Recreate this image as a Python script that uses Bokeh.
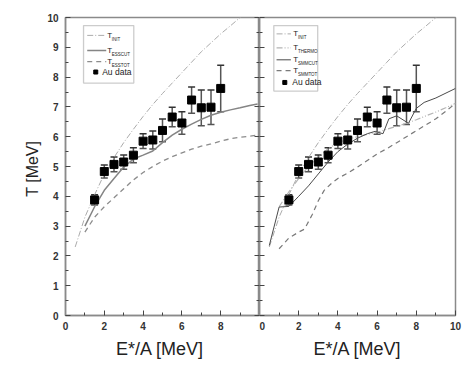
from bokeh.plotting import figure
from bokeh.models import (ColumnDataSource, Whisker, TeeHead, FixedTicker, LinearAxis,
                          BoxAnnotation, Label, Range1d)
from bokeh.layouts import row
from bokeh.embed import file_html
from bokeh.resources import INLINE

# ---------------- data ----------------
E_data = [1.5, 2.0, 2.5, 3.0, 3.5, 4.0, 4.5, 5.0, 5.5, 6.0, 6.5, 7.0, 7.5, 8.0]
T_data = [3.88, 4.83, 5.07, 5.15, 5.38, 5.85, 5.89, 6.21, 6.66, 6.46, 7.23, 6.97, 6.99, 7.62]
T_err = [0.17, 0.22, 0.25, 0.24, 0.25, 0.25, 0.30, 0.38, 0.33, 0.38, 0.44, 0.60, 0.58, 0.78]

E_init = [0.5, 1.0, 1.5, 2.0, 2.5, 3.0, 3.5, 4.0, 4.5, 5.0, 5.5, 6.0, 6.5, 7.0, 7.5, 8.0, 8.5, 9.0, 9.5]
T_init = [2.3, 3.3, 4.05, 4.75, 5.3, 5.8, 6.25, 6.68, 7.08, 7.45, 7.8, 8.15, 8.5, 8.85, 9.15, 9.45, 9.72, 10.0, 10.25]

E_esscut = [1.0, 1.5, 2.0, 2.5, 3.0, 3.5, 4.0, 4.5, 5.0, 5.5, 6.0, 6.5, 7.0, 7.5, 8.0, 8.5, 9.0, 9.5, 9.9]
T_esscut = [3.0, 3.65, 4.2, 4.6, 4.98, 5.25, 5.38, 5.52, 5.8, 6.05, 6.25, 6.42, 6.58, 6.72, 6.82, 6.9, 6.97, 7.05, 7.1]

E_esstot = [1.0, 1.5, 2.0, 2.5, 3.0, 3.5, 4.0, 4.5, 5.0, 5.5, 6.0, 6.5, 7.0, 7.5, 8.0, 8.5, 9.0, 9.5, 9.9]
T_esstot = [2.8, 3.3, 3.65, 3.95, 4.25, 4.55, 4.8, 5.0, 5.18, 5.33, 5.46, 5.58, 5.68, 5.76, 5.85, 5.93, 5.98, 6.02, 6.05]

E_thermo = [1.0, 1.5, 2.0, 2.5, 3.0, 3.5, 4.0, 4.5, 5.0, 5.5, 6.0, 6.5, 7.0, 7.5, 8.0, 8.5, 9.0, 9.5, 10.0]
T_thermo = [3.65, 4.15, 4.6, 5.0, 5.3, 5.6, 5.8, 5.92, 6.0, 6.08, 6.15, 6.25, 6.35, 6.45, 6.57, 6.7, 6.83, 6.97, 7.12]

E_smmcut = [0.5, 1.0, 1.5, 2.0, 2.5, 3.0, 3.5, 4.0, 4.5, 5.0, 5.5, 5.9, 6.3, 6.6, 7.0, 7.6, 8.0, 8.4, 9.0, 10.0]
T_smmcut = [2.35, 3.64, 3.66, 4.0, 4.35, 4.75, 5.15, 5.5, 5.75, 5.95, 6.1, 6.18, 6.1, 6.6, 6.7, 6.45, 6.95, 7.15, 7.3, 7.62]

E_smmtot = [1.0, 1.5, 2.0, 2.3, 2.7, 3.0, 3.3, 3.7, 4.0, 4.5, 5.0, 5.5, 6.0, 6.5, 7.0, 7.5, 8.0, 8.5, 9.0, 9.5, 10.0]
T_smmtot = [2.24, 2.6, 2.8, 2.9, 3.4, 3.85, 4.2, 4.45, 4.6, 4.78, 4.98, 5.2, 5.42, 5.6, 5.8, 6.0, 6.2, 6.4, 6.6, 6.85, 7.12]

x_ticks_left = [0, 2, 4, 6, 8]
x_ticks_right = [0, 2, 4, 6, 8, 10]
y_ticks = [0, 1, 2, 3, 4, 5, 6, 7, 8, 9, 10]

FONT = "Liberation Sans"
AXIS_COL = "#8a8a8a"
TICK_COL = "#444444"

INIT_STYLE = dict(line_color="#ababab", line_width=1, line_dash="6 2 1 2")
THERMO_STYLE = dict(line_color="#b4b4b4", line_width=1.2, line_dash="6 2 1 2 1 2")


def make_fig(left_border, right_border, frame_w, xticks):
    p = figure(frame_width=frame_w, frame_height=298,
               x_range=Range1d(0, 10), y_range=Range1d(0, 10),
               min_border_left=left_border, min_border_right=right_border,
               min_border_top=17, min_border_bottom=42,
               output_backend="svg", toolbar_location=None)
    p.xgrid.visible = False
    p.ygrid.visible = False
    p.outline_line_color = AXIS_COL
    p.outline_line_width = 1.5
    p.xaxis.ticker = FixedTicker(ticks=xticks, minor_ticks=[1, 3, 5, 7, 9])
    p.yaxis.ticker = FixedTicker(ticks=y_ticks, minor_ticks=[v + 0.5 for v in y_ticks[:-1]])
    for ax in (p.xaxis[0], p.yaxis[0]):
        ax.axis_line_color = AXIS_COL
        ax.axis_line_width = 1.5
        ax.major_tick_in = 5
        ax.major_tick_out = 0
        ax.minor_tick_in = 3
        ax.minor_tick_out = 0
        ax.major_tick_line_color = TICK_COL
        ax.minor_tick_line_color = TICK_COL
        ax.major_label_text_font = FONT
        ax.major_label_text_font_style = "bold"
        ax.major_label_text_font_size = "10px"
        ax.major_label_text_color = "#333333"
        ax.axis_label_text_font = FONT
        ax.axis_label_text_font_style = "normal"
        ax.axis_label_text_color = "#222222"
    p.xaxis.major_label_standoff = 6
    p.yaxis.major_label_standoff = 7
    return p


def add_data(p):
    src = ColumnDataSource(dict(x=E_data, y=T_data,
                                lo=[t - e for t, e in zip(T_data, T_err)],
                                hi=[t + e for t, e in zip(T_data, T_err)]))
    w = Whisker(base="x", lower="lo", upper="hi", source=src,
                line_color="#555555", line_width=1.5,
                upper_head=TeeHead(size=7, line_color="#333333", line_width=1.5),
                lower_head=TeeHead(size=7, line_color="#555555", line_width=1.5))
    p.add_layout(w)
    p.scatter("x", "y", source=src, marker="square", size=8, color="black")


def legend(p, x0, x1, y0, y1, xl0, xl1, xt, rows, au_y, au_mx, au_tx):
    p.add_layout(BoxAnnotation(left=x0, right=x1, bottom=y0, top=y1,
                               fill_color="white", fill_alpha=1.0, level="underlay",
                               line_color="#555555", line_width=1.3))
    for yy, style, sub in rows:
        p.line([xl0, xl1], [yy, yy], **style)
        p.add_layout(Label(x=xt, y=yy, text="T", text_font=FONT, text_font_size="8px",
                           text_baseline="middle", text_color="#222222"))
        p.add_layout(Label(x=xt + 0.24, y=yy - 0.13, text=sub, text_font=FONT,
                           text_font_size="4.5px", text_baseline="middle",
                           text_color="#222222"))
    p.scatter([au_mx], [au_y], marker="square", size=4, color="black")
    p.add_layout(Label(x=au_tx, y=au_y, text="Au data", text_font=FONT,
                       text_font_size="8.5px", text_baseline="middle", text_color="#222222"))


def hide_labels(ax):
    ax.major_label_text_font_size = "1px"
    ax.major_label_text_color = None
    ax.major_label_standoff = 0


# ---------------- left panel ----------------
p1 = make_fig(65, 0, 194, x_ticks_left)
p1.xaxis.axis_label = "E*/A  [MeV]"
p1.yaxis.axis_label = "T  [MeV]"
p1.xaxis.axis_label_text_font_size = "18px"
p1.yaxis.axis_label_text_font_size = "16px"
p1.xaxis.axis_label_standoff = 6
p1.yaxis.axis_label_standoff = 3

ESSCUT_STYLE = dict(line_color="#858585", line_width=1.5)
ESSTOT_STYLE = dict(line_color="#8c8c8c", line_width=1.3, line_dash="5 4")

p1.line(E_init, T_init, **INIT_STYLE)
p1.line(E_esscut, T_esscut, **ESSCUT_STYLE)
p1.line(E_esstot, T_esstot, **ESSTOT_STYLE)
add_data(p1)

legend(p1, 0.93, 3.52, 7.8, 9.73, 1.12, 2.1, 2.15,
       [(9.4, INIT_STYLE, "INIT"), (8.89, ESSCUT_STYLE, "ESSCUT"), (8.52, ESSTOT_STYLE, "ESSTOT")],
       8.17, 1.56, 1.89)

# ---------------- right panel ----------------
p2 = make_fig(0, 8, 196, x_ticks_right)
p2.xaxis.axis_label = "E*/A [MeV]"
p2.xaxis.axis_label_text_font_size = "18px"
p2.xaxis.axis_label_standoff = 6
hide_labels(p2.yaxis[0])

SMMCUT_STYLE = dict(line_color="#4a4a4a", line_width=1)
SMMTOT_STYLE = dict(line_color="#7a7a7a", line_width=1.2, line_dash="5 4")

p2.line(E_init, T_init, **INIT_STYLE)
p2.line(E_thermo, T_thermo, **THERMO_STYLE)
p2.line(E_smmcut, T_smmcut, **SMMCUT_STYLE)
p2.line(E_smmtot, T_smmtot, **SMMTOT_STYLE)
add_data(p2)

legend(p2, 0.73, 2.97, 7.53, 9.73, 0.87, 1.6, 1.72,
       [(9.45, INIT_STYLE, "INIT"), (8.98, THERMO_STYLE, "THERMO"),
        (8.58, SMMCUT_STYLE, "SMMCUT"), (8.22, SMMTOT_STYLE, "SMMTOT")],
       7.82, 1.29, 1.67)

# mirrored ticks on left panel's right edge
ax_r = LinearAxis(ticker=FixedTicker(ticks=y_ticks, minor_ticks=[v + 0.5 for v in y_ticks[:-1]]),
                  axis_line_color=AXIS_COL, axis_line_width=1.5,
                  major_tick_in=5, major_tick_out=0, minor_tick_in=3, minor_tick_out=0,
                  major_tick_line_color=TICK_COL, minor_tick_line_color=TICK_COL)
hide_labels(ax_r)
p1.add_layout(ax_r, "right")

layout = row(p1, p2)
open("out.html", "w").write(file_html(layout, INLINE))
